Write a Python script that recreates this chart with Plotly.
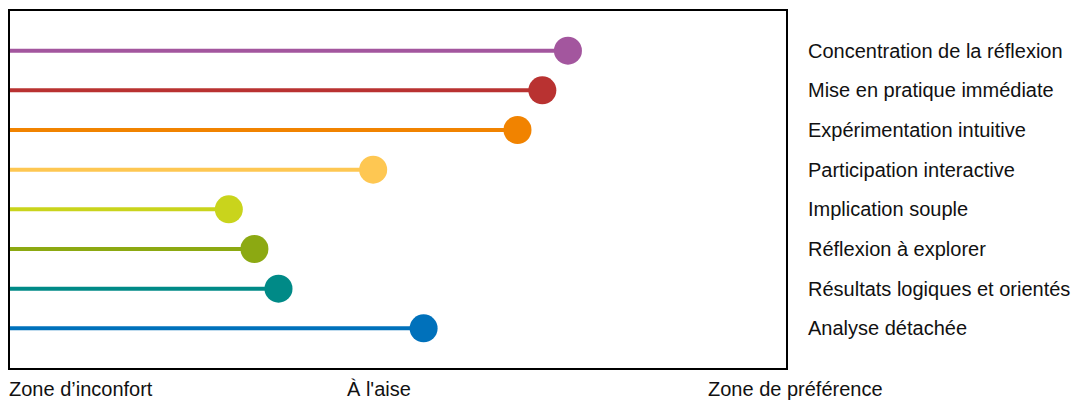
import plotly.graph_objects as go

# Data (bottom to top)
categories = [
    "Analyse détachée",
    "Résultats logiques et orientés",
    "Réflexion à explorer",
    "Implication souple",
    "Participation interactive",
    "Expérimentation intuitive",
    "Mise en pratique immédiate",
    "Concentration de la réflexion",
]
values = [53.3, 34.6, 31.5, 28.2, 46.8, 65.4, 68.6, 71.9]
colors = ["#0071BB", "#008A87", "#8CA912", "#C9D41C", "#FEC752", "#F18300", "#B93231", "#A3569E"]
zone_labels = ["Zone d\u2019inconfort", "À l'aise", "Zone de préférence"]

FONT = "Liberation Sans, Arial, sans-serif"

fig = go.Figure()
for i, (cat, v, c) in enumerate(zip(categories, values, colors)):
    fig.add_trace(go.Scatter(
        x=[0, v], y=[i, i], mode="lines",
        line=dict(color=c, width=4), hoverinfo="skip", showlegend=False,
    ))
for i, (cat, v, c) in enumerate(zip(categories, values, colors)):
    fig.add_trace(go.Scatter(
        x=[v], y=[i], mode="markers", name=cat,
        marker=dict(color=c, size=28, line=dict(width=0)),
        showlegend=False, cliponaxis=False,
    ))

annotations = []
for i, cat in enumerate(categories):
    annotations.append(dict(
        x=1, xref="paper", y=i, yref="y", text=cat, showarrow=False,
        xanchor="left", yanchor="middle", xshift=20,
        font=dict(family=FONT, size=20, color="#111"),
    ))
zone_x = [0, 0.4755, 1.0116]
zone_anchor = ["left", "center", "center"]
zone_shift = [-3, 0, 0]
for lbl, zx, za, zs in zip(zone_labels, zone_x, zone_anchor, zone_shift):
    annotations.append(dict(
        x=zx, xref="paper", y=0, yref="paper", text=lbl, showarrow=False,
        xanchor=za, yanchor="middle", yshift=-21, xshift=zs,
        font=dict(family=FONT, size=20, color="#111"),
    ))

fig.update_layout(
    width=1074, height=403,
    margin=dict(l=10, r=288, t=9, b=35),
    paper_bgcolor="white", plot_bgcolor="white",
    annotations=annotations,
    hovermode=False,
    xaxis=dict(range=[0, 100], showgrid=False, zeroline=False, showticklabels=False,
               ticks="", showline=True, mirror=True, linecolor="black", linewidth=2),
    yaxis=dict(range=[-1, 8], showgrid=False, zeroline=False, showticklabels=False,
               ticks="", showline=True, mirror=True, linecolor="black", linewidth=2),
)

fig.write_html(
    "out.html",
    config={"displayModeBar": False},
    post_script=(
        "document.body.style.margin='0';"
        "document.documentElement.style.overflow='hidden';"
        "document.body.style.overflow='hidden';"
    ),
)
